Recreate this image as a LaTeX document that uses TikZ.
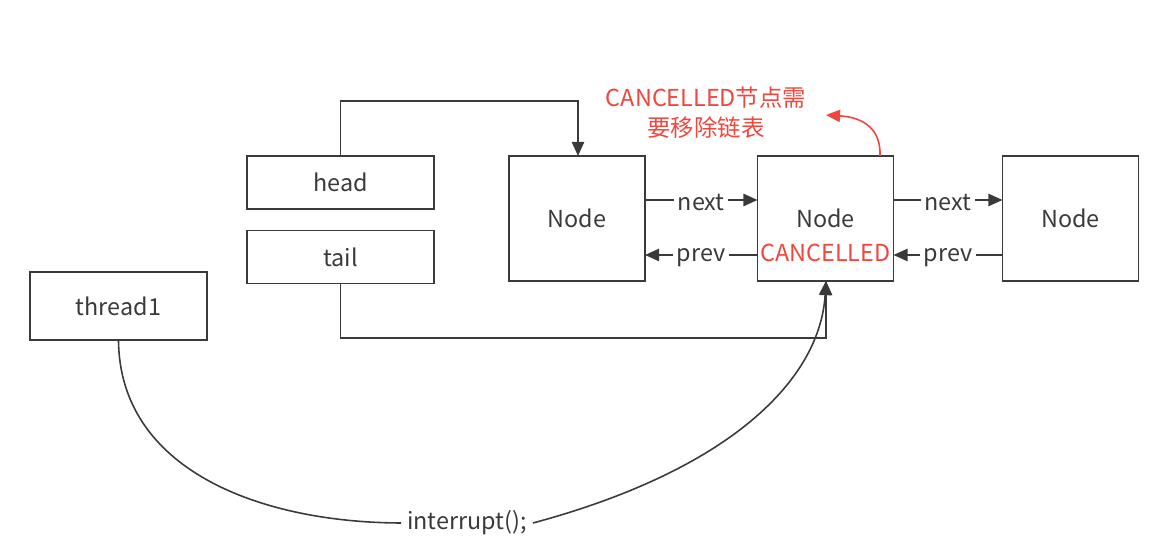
\documentclass[tikz,border=0pt]{standalone}
\usepackage{fontspec}
\setmainfont{Noto Sans CJK SC}
\usepackage{tikz}
\usetikzlibrary{positioning,arrows.meta}
\definecolor{ink}{HTML}{3A3A3A}
\definecolor{alert}{HTML}{F0463C}

\begin{document}
\begin{tikzpicture}[
		x=1cm, y=1cm,
		font=\fontsize{13.3}{15}\selectfont, text=ink,
		box/.style={draw=ink, line width=0.9pt, minimum width=3.74cm, minimum height=1.06cm, inner sep=0pt},
		nd/.style={draw=ink, line width=0.9pt, minimum width=2.72cm, minimum height=2.5cm, inner sep=0pt},
		lnk/.style={draw=ink, line width=0.9pt, -{Triangle[length=8pt,width=7pt]}},
		lbl/.style={fill=white, inner sep=2pt, yshift=-1.5pt}
	]
		\useasboundingbox (0,0) rectangle (23.4,-11.04);

		\node (head) [box] at (6.81,-3.65) {head};
		\node (tail) [box, below=0.4cm of head] {tail};
		\node (thread1) [box, minimum width=3.54cm, minimum height=1.36cm] at (2.37,-6.12) {thread1};

		\node (n1) [nd] at (11.54,-4.37) {};
		\node (n2) [nd] at (16.51,-4.37) {};
		\node (n3) [nd] at (21.41,-4.37) {};
		\node (t1) at (n1) {Node};
		\node (t2) at (n2) {Node};
		\node (t3) at (n3) {Node};
		\node (c2) [text=alert, below=0.08cm of t2] {CANCELLED};

		% head / tail pointers
		\draw [lnk] (head.north) |- (6.81,-2.02) -| (11.56,-3.12);
		\draw [lnk] (tail.south) |- (6.81,-6.76) -| (16.52,-5.62);

		% next / prev links
		\draw [lnk] (12.9,-4.0) -- node[lbl] {next} (15.15,-4.0);
		\draw [lnk] (15.15,-5.1) -- node[lbl] {prev} (12.9,-5.1);
		\draw [lnk] (17.87,-4.0) -- node[lbl] {next} (20.05,-4.0);
		\draw [lnk] (20.05,-5.1) -- node[lbl] {prev} (17.87,-5.1);

		% interrupt
		\node (int) at (9.34,-10.46) {interrupt();};
		\draw [draw=ink, line width=0.9pt] (thread1.south) .. controls (2.4,-9.4) and (5.2,-10.45) .. (int.west);
		\draw [lnk] (int.east) .. controls (14.6,-9.4) and (16.4,-7.6) .. (16.52,-5.62);

		% note
		\node (note) [text=alert, align=center, font=\fontsize{13.3}{17}\selectfont] at (14.12,-2.25) {CANCELLED节点需\\要移除链表};
		\draw [draw=alert, line width=0.9pt, -{Triangle[length=8pt,width=7pt]}] (17.6,-3.12) .. controls (17.62,-2.6) and (17.3,-2.35) .. (16.52,-2.3);
\end{tikzpicture}
\end{document}
